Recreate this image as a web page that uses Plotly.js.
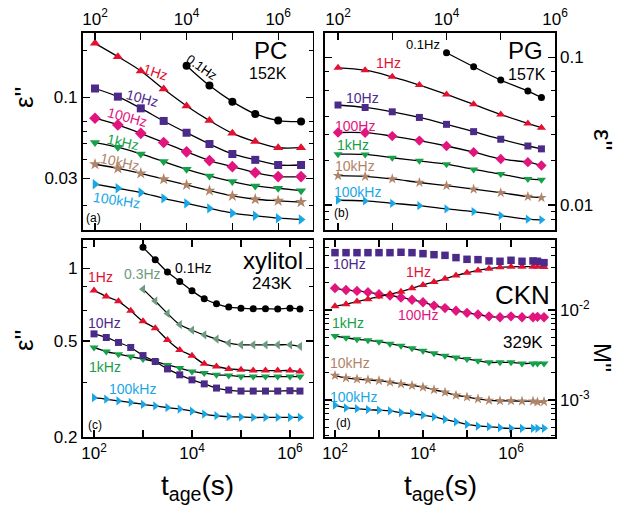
<!DOCTYPE html>
<html><head><meta charset="utf-8">
<script src="https://cdn.plot.ly/plotly-3.0.1.min.js"></script>
<style>html,body{margin:0;padding:0;background:#fff}#g{width:620px;height:508px}</style>
</head><body><div id="g"></div>
<script>
// ---- ages (s) ----
const xA = [100, 316, 1000, 3162, 10000, 31623, 100000, 316228, 1000000, 3162278];
const xA01 = [10000, 31623, 100000, 316228, 1000000, 3162278];
const xB = [100, 316, 1000, 3162, 10000, 31623, 100000, 316228, 562341];
const xB01 = [10000, 31623, 100000, 316228, 562341];
const xC = [100, 178, 316, 562, 1000, 1778, 3162, 5623, 10000, 17783, 31623, 56234, 100000, 177828, 316228, 562341, 1000000, 1600000];
const xC01 = [1000, 1778, 3162, 5623, 10000, 17783, 31623, 56234, 100000, 177828, 316228, 562341, 1000000, 1600000];
const xD = [100, 178, 316, 562, 1000, 1778, 3162, 5623, 10000, 17783, 31623, 56234, 100000, 177828, 316228, 562341, 1000000, 1778279, 3162278, 4000000, 5623413];

// ---- (a) PC 152K ----
const a_01 = [0.160, 0.119, 0.0938, 0.0781, 0.0708, 0.0697];
const a_1 = [0.223, 0.183, 0.148, 0.113, 0.088, 0.0708, 0.0586, 0.0518, 0.0473, 0.0473];
const a_10 = [0.114, 0.101, 0.0849, 0.0704, 0.0591, 0.0500, 0.0431, 0.0395, 0.0366, 0.0366];
const a_100 = [0.0733, 0.0664, 0.0586, 0.0511, 0.0445, 0.0391, 0.0357, 0.0327, 0.0308, 0.0308];
const a_1k = [0.0511, 0.0477, 0.0431, 0.0385, 0.0343, 0.0311, 0.0286, 0.0268, 0.0259, 0.0250];
const a_10k = [0.0370, 0.0348, 0.0323, 0.0296, 0.0272, 0.0250, 0.0231, 0.0220, 0.0215, 0.0211];
const a_100k = [0.0275, 0.0259, 0.0243, 0.0223, 0.0207, 0.0192, 0.0179, 0.0172, 0.0166, 0.0163];

// ---- (b) PG 157K ----
const b_01 = [0.1076, 0.0865, 0.0703, 0.0592, 0.0536];
const b_1 = [0.0851, 0.0820, 0.0739, 0.0650, 0.0562, 0.0481, 0.0411, 0.0357, 0.0334];
const b_10 = [0.0476, 0.0458, 0.0428, 0.0392, 0.0352, 0.0314, 0.0279, 0.0251, 0.0240];
const b_100 = [0.0310, 0.0309, 0.0293, 0.0273, 0.0251, 0.0228, 0.0205, 0.0195, 0.0185];
const b_1k = [0.0221, 0.0220, 0.0209, 0.0199, 0.0189, 0.0174, 0.0162, 0.0150, 0.0148];
const b_10k = [0.0158, 0.0156, 0.0150, 0.0142, 0.0135, 0.0128, 0.0121, 0.0114, 0.0112];
const b_100k = [0.01076, 0.01064, 0.01026, 0.00989, 0.00939, 0.00901, 0.00847, 0.00800, 0.00792];

// ---- (c) xylitol 243K ----
const c_01 = [1.222, 1.086, 0.965, 0.883, 0.807, 0.748, 0.713, 0.691, 0.684, 0.680, 0.680, 0.678, 0.684, 0.678];
const c_03 = [0.820, 0.732, 0.650, 0.585, 0.554, 0.530, 0.509, 0.490, 0.482, 0.482, 0.482, 0.482, 0.482, 0.475];
const c_1 = [0.810, 0.765, 0.730, 0.667, 0.603, 0.565, 0.505, 0.459, 0.434, 0.402, 0.392, 0.383, 0.380, 0.377, 0.377, 0.377, 0.377, 0.3735];
const c_10 = [0.535, 0.517, 0.493, 0.470, 0.435, 0.411, 0.383, 0.362, 0.345, 0.332, 0.319, 0.313, 0.310, 0.310, 0.310, 0.310, 0.311, 0.310];
const c_1k = [0.470, 0.452, 0.441, 0.431, 0.421, 0.411, 0.398, 0.386, 0.374, 0.368, 0.362, 0.360, 0.356, 0.356, 0.356, 0.356, 0.356, 0.356];
const c_100k = [0.291, 0.287, 0.282, 0.278, 0.273, 0.269, 0.265, 0.261, 0.256, 0.249, 0.245, 0.243, 0.242, 0.241, 0.241, 0.241, 0.241, 0.241];

// ---- (d) CKN 329K (M'') ----
const d_10 = [0.0434, 0.0434, 0.0434, 0.0434, 0.0434, 0.0434, 0.0438, 0.0434, 0.0423, 0.0412, 0.0405, 0.0382, 0.0366, 0.0363, 0.0351, 0.0348, 0.0357, 0.0348, 0.0351, 0.0348, 0.0336];
const d_1 = [0.0110, 0.0116, 0.0124, 0.0132, 0.0141, 0.0150, 0.0160, 0.0174, 0.0190, 0.0205, 0.0222, 0.0242, 0.0259, 0.0275, 0.0288, 0.0298, 0.0302, 0.0303, 0.0303, 0.0303, 0.0300];
const d_100 = [0.0175, 0.0167, 0.0163, 0.0158, 0.0150, 0.0145, 0.0138, 0.0130, 0.0122, 0.0112, 0.0105, 0.0098, 0.0093, 0.0089, 0.0085, 0.0083, 0.0085, 0.0083, 0.0083, 0.0084, 0.0083];
const d_1k = [0.00514, 0.00492, 0.00472, 0.00460, 0.00445, 0.00423, 0.00400, 0.00375, 0.00352, 0.00330, 0.00310, 0.00297, 0.00285, 0.00273, 0.00262, 0.00262, 0.00262, 0.00255, 0.00255, 0.00255, 0.00255];
const d_10k = [0.00187, 0.00176, 0.00171, 0.00167, 0.00164, 0.00158, 0.00151, 0.00145, 0.00139, 0.00130, 0.00122, 0.00113, 0.00108, 0.00103, 0.00099, 0.00098, 0.00098, 0.00097, 0.00097, 0.00095, 0.00096];
const d_100k = [0.000875, 0.000817, 0.000802, 0.000782, 0.000770, 0.000757, 0.000725, 0.000707, 0.000679, 0.000650, 0.000608, 0.000573, 0.000535, 0.000514, 0.000505, 0.000492, 0.000484, 0.000484, 0.000484, 0.000484, 0.000484];

// ---- tick labels ----
const xTickVals = [100, 1000, 10000, 100000, 1000000];
const xTickText = ['10<sup>2</sup>', ' ', '10<sup>4</sup>', ' ', '10<sup>6</sup>'];

const C = {k:'#000000', r:'#e3102f', p:'#4b2a8a', m:'#e2157f', g:'#17a04a', b:'#b08468', c:'#1aa7e6', s:'#6e9a80'};
const FONT = 'Liberation Sans, Arial, Helvetica, sans-serif';

const traces = [];
function ser(xa, ya, x, y, col, sym, size, withLine) {
  traces.push({
    x: x, y: y, xaxis: xa, yaxis: ya, type: 'scatter',
    mode: withLine ? 'lines+markers' : 'markers',
    line: {color: '#000', width: 1.3, shape: 'spline', smoothing: 1},
    marker: {color: col, symbol: sym, size: size, line: {width: 0}},
    hoverinfo: 'skip', showlegend: false, cliponaxis: false
  });
}
// (a)
ser('x','y', xA, a_100k, C.c, 'triangle-right', 9, true);
ser('x','y', xA, a_10k, C.b, 'star', 9, true);
ser('x','y', xA, a_1k, C.g, 'triangle-down', 9, true);
ser('x','y', xA, a_100, C.m, 'diamond', 9, true);
ser('x','y', xA, a_10, C.p, 'square', 8, true);
ser('x','y', xA, a_1, C.r, 'triangle-up', 9, true);
ser('x','y', xA01, a_01, C.k, 'circle', 8, true);
// (b)
ser('x2','y2', xB, b_100k, C.c, 'triangle-right', 8, true);
ser('x2','y2', xB, b_10k, C.b, 'star', 8, true);
ser('x2','y2', xB, b_1k, C.g, 'triangle-down', 8, true);
ser('x2','y2', xB, b_100, C.m, 'diamond', 8, true);
ser('x2','y2', xB, b_10, C.p, 'square', 7, true);
ser('x2','y2', xB, b_1, C.r, 'triangle-up', 8, true);
ser('x2','y2', xB01, b_01, C.k, 'circle', 7, true);
// (c)
ser('x3','y3', xC, c_100k, C.c, 'triangle-right', 8, true);
ser('x3','y3', xC, c_1k, C.g, 'triangle-down', 8, true);
ser('x3','y3', xC, c_10, C.p, 'square', 7, true);
ser('x3','y3', xC, c_1, C.r, 'triangle-up', 8, true);
ser('x3','y3', xC01, c_03, C.s, 'triangle-left', 8, true);
ser('x3','y3', xC01, c_01, C.k, 'circle', 7, true);
// (d)
ser('x4','y4', xD, d_100k, C.c, 'triangle-right', 8, true);
ser('x4','y4', xD, d_10k, C.b, 'star', 8, true);
ser('x4','y4', xD, d_1k, C.g, 'triangle-down', 8, true);
ser('x4','y4', xD, d_100, C.m, 'diamond', 8, true);
ser('x4','y4', xD, d_1, C.r, 'triangle-up', 8, true);
ser('x4','y4', xD, d_10, C.p, 'square', 7.5, false);

const W = 620, H = 508;
const dxL = [82.5/W, 312.5/W], dxR = [325/W, 555/W];
const dyT = [1-230/H, 1-33/H], dyB = [1-437/H, 1-240/H];

function xax(domain, range, side, anchor) {
  return {type:'log', domain: domain, range: range, side: side, anchor: anchor,
    showline: true, linecolor:'#000', linewidth: 1.6, mirror: 'ticks',
    ticks: 'inside', ticklen: 7, tickwidth: 1.2, tickcolor: '#000',
    tickmode: 'array', tickvals: xTickVals, ticktext: xTickText,
    tickfont: {size: 17, color:'#000', family: FONT},
    showgrid: false, zeroline: false, fixedrange: true};
}
function yax(domain, range, side, anchor, tv, tt, minorVals) {
  return {type:'log', domain: domain, range: range, side: side, anchor: anchor,
    showline: true, linecolor:'#000', linewidth: 1.6, mirror: 'ticks',
    ticks: 'inside', ticklen: 7, tickwidth: 1.2, tickcolor: '#000',
    tickmode: 'array', tickvals: tv, ticktext: tt,
    minor: {tickmode: 'array', tickvals: minorVals, ticks: 'inside', ticklen: 4, tickwidth: 1, tickcolor: '#000', showgrid: false},
    tickfont: {size: 17, color:'#000', family: FONT},
    showgrid: false, zeroline: false, fixedrange: true};
}

function lab(text, px, py, color, size, angle, xanchor) {
  return {text: text, xref:'paper', yref:'paper', x: px/W, y: 1-py/H, showarrow: false,
    xanchor: xanchor || 'center', yanchor: 'middle', textangle: angle || 0,
    borderpad: 0, font: {color: color, size: size, family: FONT}};
}

const annotations = [
  // axis titles
  lab("ε''", 24, 97, '#000', 26, -90),
  lab("ε''", 24, 340, '#000', 26, -90),
  lab("ε''", 603, 140, '#000', 26, 90),
  lab("M''", 603, 357, '#000', 24, 90),
  lab("t<sub>age</sub>(s)", 197, 487, '#000', 28, 0),
  lab("t<sub>age</sub>(s)", 440, 487, '#000', 28, 0),
  // (a)
  lab('PC', 270, 50, '#000', 24), lab('152K', 268, 74, '#000', 16),
  lab('(a)', 93, 218, '#000', 12),
  lab('0.1Hz', 202, 67, '#000', 13, 35),
  lab('1Hz', 155, 72, C.r, 14, 18),
  lab('10Hz', 142, 98, C.p, 14, 15),
  lab('100Hz', 127, 117, C.m, 14, 15),
  lab('1kHz', 123, 142, C.g, 14, 12),
  lab('10kHz', 120, 162, C.b, 14, 12),
  lab('100kHz', 116, 200, C.c, 14, 8),
  // (b)
  lab('PG', 525, 50, '#000', 24), lab('157K', 527, 75, '#000', 16),
  lab('(b)', 341, 213, '#000', 12),
  lab('0.1Hz', 423, 45, '#000', 13),
  lab('1Hz', 388, 63, C.r, 14),
  lab('10Hz', 362, 98, C.p, 14),
  lab('100Hz', 355, 126, C.m, 14),
  lab('1kHz', 353, 145, C.g, 14),
  lab('10kHz', 355, 166, C.b, 14),
  lab('100kHz', 357, 192, C.c, 14),
  // (c)
  lab('xylitol', 273, 260, '#000', 24), lab('243K', 272, 283, '#000', 17),
  lab('(c)', 95, 425, '#000', 12),
  lab('0.1Hz', 193, 268, '#000', 14),
  lab('0.3Hz', 142, 274, C.s, 14),
  lab('1Hz', 100, 277, C.r, 14),
  lab('10Hz', 105, 323, C.p, 14),
  lab('1kHz', 105, 367, C.g, 14),
  lab('100kHz', 132, 389, C.c, 14),
  // (d)
  lab('CKN', 522, 295, '#000', 26), lab('329K', 523, 342, '#000', 17),
  lab('(d)', 343, 423, '#000', 12),
  lab('10Hz', 349, 264, C.p, 14),
  lab('1Hz', 418, 272, C.r, 14),
  lab('100Hz', 418, 315, C.m, 14),
  lab('1kHz', 348, 323, C.g, 14),
  lab('10kHz', 350, 363, C.b, 14),
  lab('100kHz', 353, 397, C.c, 14)
];

const layout = {
  width: W, height: H, margin: {l:0, r:0, t:0, b:0},
  paper_bgcolor:'#fff', plot_bgcolor:'#fff', showlegend: false,
  font: {family: FONT, color:'#000'},
  xaxis: xax(dxL, [1.727, 6.75], 'top', 'y'),
  yaxis: yax(dyT, [-1.856, -0.585], 'left', 'x', [0.03, 0.1], ['0.03', '0.1'], [0.02, 0.04, 0.05, 0.06, 0.07, 0.2]),
  xaxis2: xax(dxR, [1.76, 6.0], 'top', 'y2'),
  yaxis2: yax(dyT, [-2.170, -0.834], 'right', 'x2', [0.01, 0.1], ['0.01', '0.1'], [0.008, 0.009, 0.02, 0.03, 0.04, 0.06, 0.08]),
  xaxis3: xax(dxL, [1.765, 6.46], 'bottom', 'y3'),
  yaxis3: yax(dyB, [-0.699, 0.1175], 'left', 'x3', [0.2, 0.5, 1], ['0.2', '0.5', '1'], [0.335, 0.67, 0.84, 1.22]),
  xaxis4: xax(dxR, [1.773, 7.0], 'bottom', 'y4'),
  yaxis4: yax(dyB, [-3.411, -1.222], 'right', 'x4', [0.001, 0.01], ['10<sup>-3</sup>', '10<sup>-2</sup>'],
     [0.0004,0.0005,0.0006,0.0007,0.0008,0.0009,0.002,0.003,0.004,0.005,0.006,0.007,0.008,0.009,0.02,0.03,0.04,0.05]),
  annotations: annotations
};
Plotly.newPlot('g', traces, layout, {staticPlot: true, displayModeBar: false});
</script></body></html>
